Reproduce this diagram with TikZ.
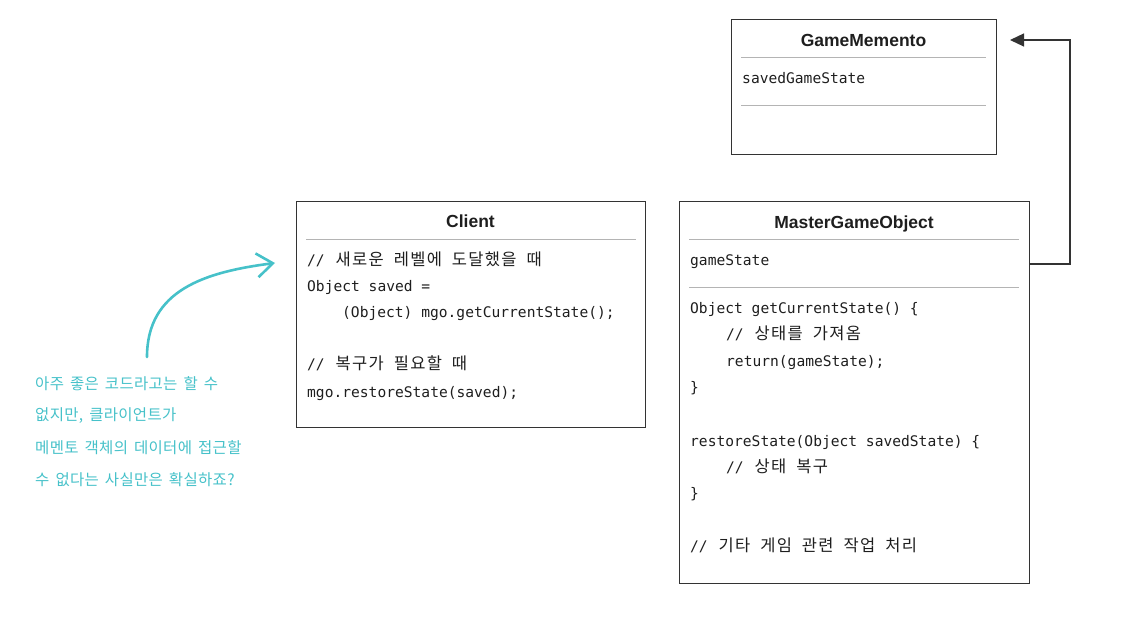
\documentclass[tikz,border=0pt]{standalone}
\usepackage{fontspec}
\setmainfont{Liberation Sans}
\setmonofont{DejaVu Sans Mono}
\newfontfamily\krfont[WordSpace=2.0,LetterSpace=8]{Noto Sans CJK KR}
\newfontfamily\notefont[WordSpace=1.6,LetterSpace=2]{Noto Sans CJK KR}
\usetikzlibrary{arrows.meta}
\definecolor{note}{HTML}{46C1C9}
\definecolor{frame}{HTML}{333333}
\definecolor{rulecol}{HTML}{B4B4B4}
\definecolor{ink}{HTML}{1E1E1E}
\newcommand\kr[1]{\hspace{2pt}{\krfont\fontsize{16.5}{26}\selectfont #1}}
\begin{document}
\begin{tikzpicture}[x=1pt,y=-1pt,
  box/.style={draw=frame,line width=1.2pt,anchor=north west,inner sep=0pt,fill=none},
  title/.style={font=\bfseries\fontsize{17.5}{20}\selectfont,text=ink,anchor=base,inner sep=0pt},
  code/.style={font=\ttfamily\fontsize{14.6}{26}\selectfont,text=ink,anchor=base west,inner sep=0pt},
  divider/.style={draw=rulecol,line width=0.8pt},
  notetext/.style={font=\notefont\fontsize{15.5}{20}\selectfont,text=note,anchor=base west,inner sep=0pt},
  conn/.style={draw=frame,line width=1.3pt},
]
\useasboundingbox (0,0) rectangle (1129,617);

% ---------- GameMemento ----------
\node[box,minimum width=265,minimum height=135] (mem) at (731,19) {};
\node[title] (memt) at (863.5,47) {GameMemento};
\draw[divider] (741,57) -- (986,57);
\node[code] (mem1) at (742,84) {savedGameState};
\draw[divider] (741,105) -- (986,105);

% ---------- Client ----------
\node[box,minimum width=349,minimum height=226] (cli) at (296,201) {};
\node[title] (clit) at (470.5,228) {Client};
\draw[divider] (306,239) -- (636,239);
\node[code] (cl1) at (307,266) {// \kr{새로운 레벨에 도달했을 때}};
\node[code] (cl2) at (307,292) {Object saved =};
\node[code] (cl3) at (342,318) {(Object) mgo.getCurrentState();};
\node[code] (cl4) at (307,370) {// \kr{복구가 필요할 때}};
\node[code] (cl5) at (307,397) {mgo.restoreState(saved);};

% ---------- MasterGameObject ----------
\node[box,minimum width=350,minimum height=382] (mgo) at (679,201) {};
\node[title] (mgot) at (854,229) {MasterGameObject};
\draw[divider] (689,239) -- (1019,239);
\node[code] (mg1) at (690,266) {gameState};
\draw[divider] (689,287) -- (1019,287);
\node[code] (mg2) at (690,314) {Object getCurrentState() \{};
\node[code] (mg3) at (726,340) {// \kr{상태를 가져옴}};
\node[code] (mg4) at (726,366) {return(gameState);};
\node[code] (mg5) at (690,392) {\}};
\node[code] (mg6) at (690,446) {restoreState(Object savedState) \{};
\node[code] (mg7) at (726,472) {// \kr{상태 복구}};
\node[code] (mg8) at (690,498) {\}};
\node[code] (mg9) at (690,551) {// \kr{기타 게임 관련 작업 처리}};

% ---------- connector MasterGameObject -> GameMemento ----------
\coordinate (m0) at (1029,264);
\coordinate (bend1) at (1070,264);
\coordinate (bend2) at (1070,40);
\coordinate (memtip) at (1010,40);
\draw[conn,-{Triangle[length=14pt,width=13pt]}] (mgo.east |- m0) -- (bend1) -- (bend2) -- (memtip);

% ---------- note ----------
\node[notetext] (n1) at (35,389) {아주 좋은 코드라고는 할 수};
\node[notetext] (n2) at (35,420) {없지만, 클라이언트가};
\node[notetext] (n3) at (35,453) {메멘토 객체의 데이터에 접근할};
\node[notetext] (n4) at (35,485) {수 없다는 사실만은 확실하죠?};
\coordinate (nstart) at (147,357);
\coordinate (ntip) at (275,263);
\draw[draw=note,line width=2.6pt,line cap=round,-{Straight Barb[length=16pt,width=24pt,line width=2.6pt]}]
  (nstart) .. controls (147,290) and (205,272) .. (ntip);
\end{tikzpicture}
\end{document}
